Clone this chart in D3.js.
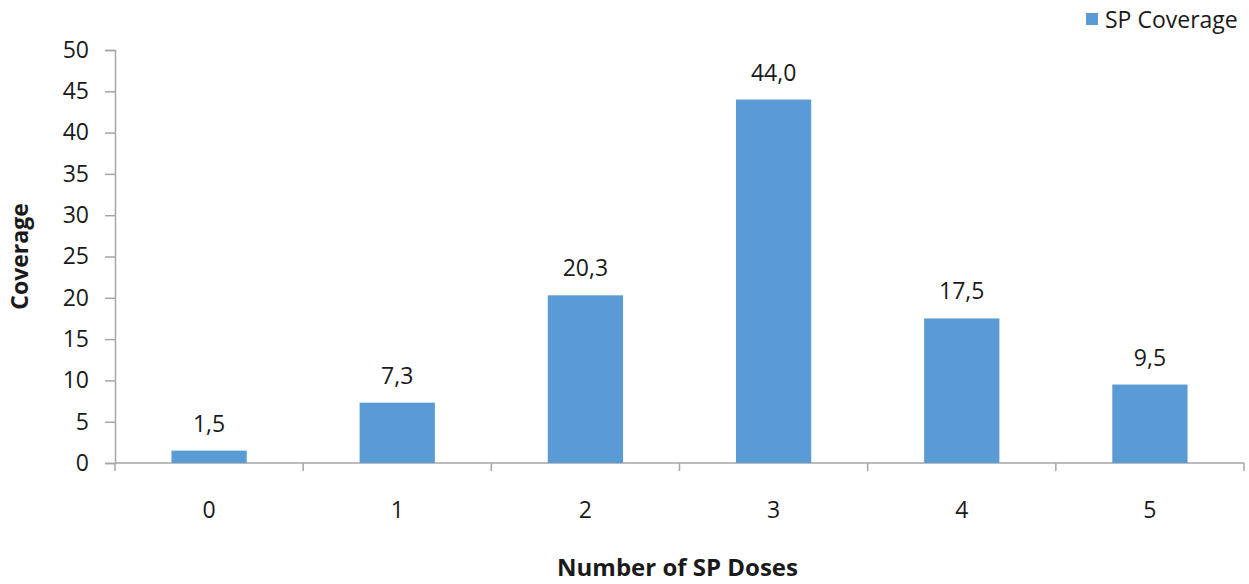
<!DOCTYPE html>
<html>
<head>
<meta charset="utf-8">
<script src="https://cdn.jsdelivr.net/npm/d3@7"></script>
<style>
  body { margin: 0; background: #fff; }
  text { font-family: "Open Sans", "Noto Sans", sans-serif; fill: #1a1a1a; }
</style>
</head>
<body>
<div id="chart"></div>
<script>
// chart data
var doses = ["0", "1", "2", "3", "4", "5"];
var coverage = [1.5, 7.3, 20.3, 44.0, 17.5, 9.5];
var yTicks = [0, 5, 10, 15, 20, 25, 30, 35, 40, 45, 50];
var seriesName = "SP Coverage";

var width = 1249, height = 584;
var plotLeft = 115, plotRight = 1244, plotTop = 50, plotBottom = 463;
var barColor = "#5b9bd5";
var axisColor = "#a6a6a6";

var svg = d3.select("#chart").append("svg")
  .attr("width", width)
  .attr("height", height);

var x = d3.scaleBand()
  .domain(doses)
  .range([plotLeft, plotRight])
  .paddingInner(0.6)
  .paddingOuter(0.3);

var y = d3.scaleLinear()
  .domain([0, 50])
  .range([plotBottom, plotTop]);

// y axis
var yAxis = svg.append("g")
  .attr("transform", "translate(" + plotLeft + ",0)")
  .call(d3.axisLeft(y).tickValues(yTicks).tickSize(10).tickPadding(16));
yAxis.select(".domain").attr("stroke", axisColor).attr("stroke-width", 1.5);
yAxis.selectAll(".tick line").attr("stroke", axisColor).attr("stroke-width", 1.5);
yAxis.selectAll(".tick text")
  .style("font-size", "23px")
  .style("font-family", "'Open Sans', sans-serif")
  .attr("fill", "#1a1a1a");

// x axis baseline + category boundary ticks
svg.append("line")
  .attr("x1", plotLeft).attr("x2", plotRight)
  .attr("y1", plotBottom).attr("y2", plotBottom)
  .attr("stroke", axisColor).attr("stroke-width", 1.5);

var bounds = doses.map(function(d) { return x(d) - x.step() * x.paddingInner() / 2; });
bounds.push(plotRight);
svg.selectAll(".xtick").data(bounds).enter().append("line")
  .attr("class", "xtick")
  .attr("x1", function(d) { return d; })
  .attr("x2", function(d) { return d; })
  .attr("y1", plotBottom)
  .attr("y2", plotBottom + 8)
  .attr("stroke", axisColor).attr("stroke-width", 1.5);

svg.selectAll(".xlabel").data(doses).enter().append("text")
  .attr("class", "xlabel")
  .attr("x", function(d) { return x(d) + x.bandwidth() / 2; })
  .attr("y", 518)
  .attr("text-anchor", "middle")
  .style("font-size", "23px")
  .text(function(d) { return d; });

// bars
svg.selectAll(".bar").data(coverage).enter().append("rect")
  .attr("class", "bar")
  .attr("x", function(d, i) { return x(doses[i]); })
  .attr("y", function(d) { return y(d); })
  .attr("width", x.bandwidth())
  .attr("height", function(d) { return plotBottom - y(d); })
  .attr("fill", barColor);

// value labels, comma decimal
svg.selectAll(".val").data(coverage).enter().append("text")
  .attr("class", "val")
  .attr("x", function(d, i) { return x(doses[i]) + x.bandwidth() / 2; })
  .attr("y", function(d) { return y(d) - 19; })
  .attr("text-anchor", "middle")
  .style("font-size", "23px")
  .text(function(d) { return d.toFixed(1).replace(".", ","); });

// axis titles
svg.append("text")
  .attr("transform", "translate(28," + ((plotTop + plotBottom) / 2) + ") rotate(-90)")
  .attr("text-anchor", "middle")
  .style("font-size", "23px")
  .style("font-weight", "bold")
  .text("Coverage");

svg.append("text")
  .attr("x", (plotLeft + plotRight) / 2 - 2)
  .attr("y", 576)
  .attr("text-anchor", "middle")
  .style("font-size", "24px")
  .style("font-weight", "bold")
  .text("Number of SP Doses");

// legend
svg.append("rect")
  .attr("x", 1086).attr("y", 13)
  .attr("width", 12).attr("height", 12)
  .attr("fill", barColor);
svg.append("text")
  .attr("x", 1105).attr("y", 28)
  .style("font-size", "23px")
  .text(seriesName);
</script>
</body>
</html>
